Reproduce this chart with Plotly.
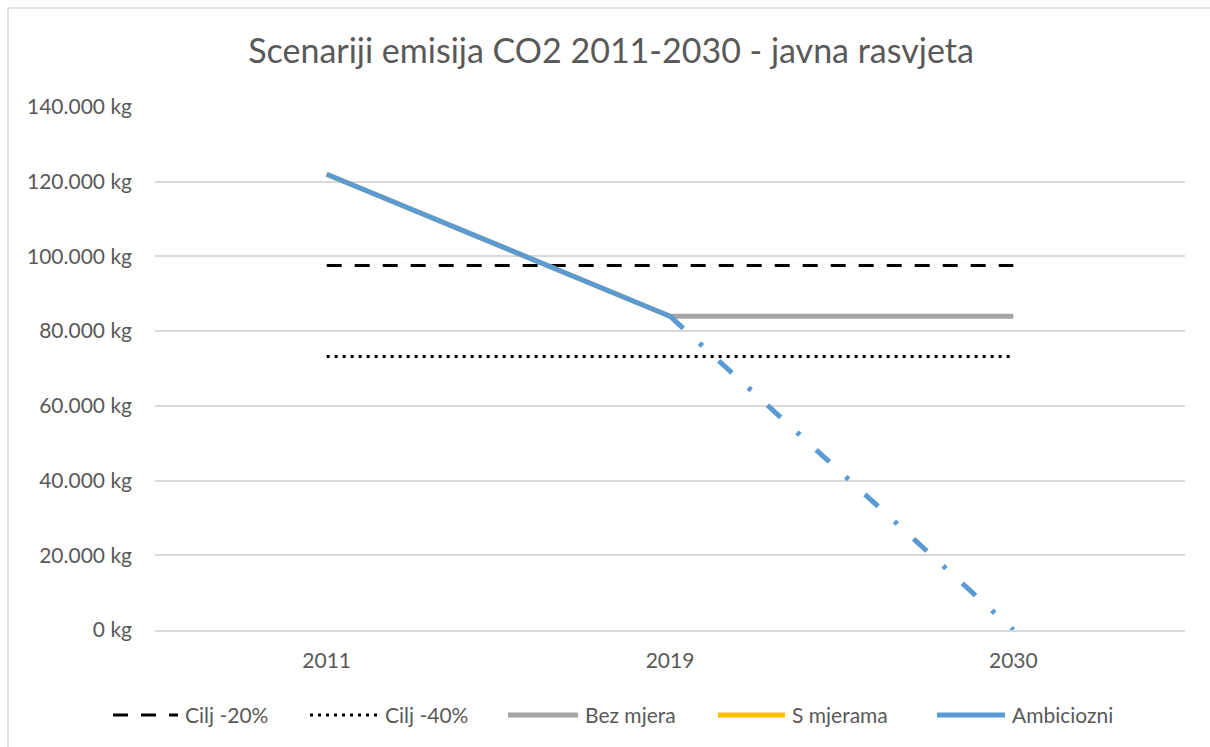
import plotly.graph_objects as go

years = ["2011", "2019", "2030"]
cilj20 = [97600, 97600, 97600]
cilj40 = [73200, 73200, 73200]
bez_mjera = [None, 84000, 84000]
s_mjerama = [122000, 84000, None]
ambiciozni_solid = [122000, 84000, None]
ambiciozni_proj = [None, 84000, 0]
yticks = [0, 20000, 40000, 60000, 80000, 100000, 120000, 140000]
ytick_text = ["0 kg", "20.000 kg", "40.000 kg", "60.000 kg", "80.000 kg",
              "100.000 kg", "120.000 kg", "140.000 kg"]
legend_names = ["Cilj -20%", "Cilj -40%", "Bez mjera", "S mjerama", "Ambiciozni"]

FONT = "Lato, 'Open Sans', sans-serif"
TXT = "#595959"
BLUE = "#5B9BD5"
W, H = 1210, 747
L, R, T, B = 155, 25, 107, 117
PW, PH = W - L - R, H - T - B
FS = 21


def px(x):
    return (x - L) / PW


def py(y):
    return (H - B - y) / PH


styles = [
    dict(color="#000000", width=3, dash="15px,13px"),
    dict(color="#000000", width=3, dash="3px,5px"),
    dict(color="#A5A5A5", width=5),
    dict(color="#FFC000", width=5),
    dict(color=BLUE, width=5),
]

fig = go.Figure()
fig.add_trace(go.Scatter(x=years, y=cilj20, mode="lines", name=legend_names[0], line=styles[0]))
fig.add_trace(go.Scatter(x=years, y=cilj40, mode="lines", name=legend_names[1], line=styles[1]))
fig.add_trace(go.Scatter(x=years, y=bez_mjera, mode="lines", name=legend_names[2], line=styles[2]))
fig.add_trace(go.Scatter(x=years, y=s_mjerama, mode="lines", name=legend_names[3], line=styles[3]))
fig.add_trace(go.Scatter(x=years, y=ambiciozni_solid, mode="lines", name=legend_names[4], line=styles[4]))
fig.add_trace(go.Scatter(x=years, y=ambiciozni_proj, mode="lines", name=legend_names[4],
                         line=dict(color=BLUE, width=5, dash="18px,22px,4px,22px")))
fig.update_traces(showlegend=False)

# manual legend (pixel layout of the reference)
leg_y = 715
sample_x = [(113, 178), (310, 378), (508, 578), (718, 785), (937, 1005)]
shapes = []
annotations = []
for name, st, (x0, x1) in zip(legend_names, styles, sample_x):
    shapes.append(dict(type="line", xref="paper", yref="paper",
                       x0=px(x0), x1=px(x1), y0=py(leg_y), y1=py(leg_y), line=st))
    annotations.append(dict(text=name, xref="paper", yref="paper", x=px(x1 + 5), y=py(leg_y),
                            xanchor="left", yanchor="middle", showarrow=False,
                            font=dict(family=FONT, size=FS, color=TXT)))

# chart-area border (left and top edges only are visible in the reference)
border = dict(color="#D9D9D9", width=1.5)
shapes.append(dict(type="line", xref="paper", yref="paper",
                   x0=px(8), x1=px(8), y0=py(8), y1=py(H + 20), line=border, layer="below"))
shapes.append(dict(type="line", xref="paper", yref="paper",
                   x0=px(8), x1=px(W + 20), y0=py(8), y1=py(8), line=border, layer="below"))

fig.update_layout(
    width=W, height=H,
    paper_bgcolor="white", plot_bgcolor="white",
    margin=dict(l=L, r=R, t=T, b=B),
    showlegend=False,
    title=dict(text="Scenariji emisija CO2 2011-2030 - javna rasvjeta",
               x=611 / W, xref="container", xanchor="center",
               y=1 - 51 / H, yref="container", yanchor="middle",
               font=dict(family=FONT, size=34, color=TXT)),
    font=dict(family=FONT, color=TXT, size=FS),
    xaxis=dict(type="category", range=[-0.5, 2.5], showgrid=False,
               showline=True, linecolor="#D9D9D9", linewidth=1.5,
               ticks="", tickfont=dict(size=FS, color=TXT), ticklabelstandoff=11),
    yaxis=dict(range=[0, 140000], tickvals=yticks, ticktext=ytick_text,
               showgrid=True, gridcolor="#D9D9D9", gridwidth=1.5,
               zeroline=False, showline=False, ticks="",
               tickfont=dict(size=FS, color=TXT), ticklabelstandoff=22),
    shapes=shapes,
    annotations=annotations,
)

fig.write_html("out.html", config={"displayModeBar": False},
               post_script="document.body.style.margin='0';document.body.style.overflow='hidden';")
